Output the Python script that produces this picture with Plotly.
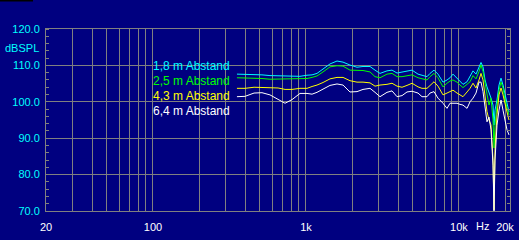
import plotly.graph_objects as go
import math

freq_hz = [354, 400, 458, 516, 582, 657, 730, 811, 914, 1016,
           1096, 1181, 1293, 1436, 1596, 1747, 1940, 2156, 2360, 2622,
           2828, 3048, 3386, 3652, 3938, 4246, 4576, 4936, 5402, 5736,
           6184, 6470, 6870, 7296, 7866, 8356, 8740, 9144, 9714, 10160,
           10628, 11294, 11812, 12354, 12926, 13524, 13936, 14362, 14802, 15254,
           15720, 16202, 16698, 16950, 17206, 17732, 18276, 18834, 19406, 20000,
           20612, 21240]

spl_1_8m = [107.6, 107.6, 107.6, 107.4, 107.2, 107.2, 107.2, 107.0, 107.0, 107.3,
            107.4, 107.8, 109.0, 110.4, 111.2, 110.9, 110.1, 109.5, 109.7, 109.7,
            108.7, 107.8, 108.5, 108.7, 107.9, 108.1, 108.5, 108.7, 107.6, 107.2,
            106.9, 107.8, 108.7, 107.6, 105.4, 106.0, 106.6, 107.6, 106.5, 105.4,
            104.8, 105.5, 106.9, 108.5, 107.6, 109.6, 110.8, 109.6, 106.0, 104.1,
            102.8, 101.0, 99.1, 93.6, 97.7, 100.5, 104.6, 106.5, 104.6, 101.9,
            99.1, 97.2]

spl_2_5m = [106.6, 106.6, 106.6, 106.4, 106.2, 106.2, 106.2, 106.2, 106.3, 106.4,
            106.7, 107.1, 108.2, 109.6, 109.9, 109.8, 108.7, 108.6, 108.6, 108.2,
            106.9, 106.6, 107.6, 107.8, 106.9, 106.9, 107.2, 107.4, 106.6, 106.3,
            106.0, 106.9, 107.8, 106.6, 104.1, 105.1, 105.7, 106.0, 105.4, 104.6,
            103.9, 104.8, 105.5, 107.2, 106.3, 108.3, 110.1, 108.3, 105.1, 101.9,
            99.1, 101.0, 95.0, 87.3, 93.6, 99.1, 103.2, 105.4, 103.8, 100.5,
            98.3, 96.4]

spl_4_3m = [103.7, 103.7, 104.0, 104.0, 104.0, 103.8, 103.4, 103.4, 103.7, 103.7,
            104.2, 104.6, 105.3, 106.3, 106.7, 106.7, 105.8, 105.4, 105.4, 105.2,
            104.3, 104.6, 104.8, 105.1, 104.3, 104.0, 104.5, 105.1, 104.1, 103.7,
            103.7, 104.6, 105.5, 104.3, 101.9, 102.4, 102.8, 103.2, 102.4, 101.9,
            101.4, 102.7, 103.7, 105.1, 103.8, 106.0, 107.8, 106.0, 101.0, 97.3,
            95.0, 93.6, 84.0, 70.3, 86.8, 96.4, 101.9, 103.8, 101.9, 99.1,
            97.2, 95.0]

spl_6_4m = [101.4, 101.5, 102.4, 102.5, 101.9, 100.6, 99.6, 100.6, 102.3, 102.3,
            102.1, 102.6, 103.5, 104.5, 104.9, 104.6, 102.7, 102.8, 103.4, 103.7,
            102.6, 101.4, 102.6, 103.0, 101.4, 101.7, 102.7, 102.9, 102.4, 101.4,
            101.4, 102.4, 102.8, 101.0, 99.6, 98.2, 99.6, 99.6, 99.6, 99.3,
            99.1, 98.2, 100.0, 101.0, 102.4, 105.4, 105.4, 102.8, 97.7, 94.5,
            95.8, 92.3, 82.6, 70.0, 84.0, 93.6, 97.7, 100.5, 97.7, 94.5,
            92.3, 90.9]

series_names = ["1,8 m Abstand", "2,5 m Abstand", "4,3 m Abstand", "6,4 m Abstand"]
series_values = [spl_1_8m, spl_2_5m, spl_4_3m, spl_6_4m]
series_colors = ["#00FFFF", "#00FF00", "#FFFF00", "#FFFFFF"]

grid_freqs = [20, 30, 40, 50, 60, 70, 80, 90,
              100, 200, 300, 400, 500, 600, 700, 800, 900,
              1000, 2000, 3000, 4000, 5000, 6000, 7000, 8000, 9000,
              10000, 20000]
labeled = {20: "20", 100: "100", 1000: "1k", 10000: "10k", 20000: "20k"}
x_ticktext = [labeled.get(f, "") for f in grid_freqs]

y_ticks = [70, 80, 90, 100, 110, 120]
y_ticktext = ["70.0", "80.0", "90.0", "100.0", "110.0", "120.0"]

BG = "#000080"
GRID = "#808080"
FONT = "Liberation Sans, Arial, sans-serif"

fig = go.Figure()
for name, vals, col in zip(series_names, series_values, series_colors):
    fig.add_trace(go.Scatter(x=freq_hz, y=vals, mode="lines", name=name,
                             line=dict(color=col, width=1), showlegend=False))

W, H = 519, 240
L, R, T, B = 46, 9, 29, 29
pw, ph = W - L - R, H - T - B

def px(xp):
    return (xp - L) / pw

def py(yp):
    return (H - B - yp) / ph

for i, (name, col) in enumerate(zip(series_names, series_colors)):
    fig.add_annotation(x=px(151), y=py(65.7 + 15 * i), xref="paper", yref="paper",
                       text=name, showarrow=False, xanchor="left", yanchor="middle",
                       font=dict(color=col, size=12, family=FONT))

fig.add_annotation(x=px(41), y=py(48), xref="paper", yref="paper", text="dBSPL",
                   showarrow=False, xanchor="right", yanchor="middle",
                   font=dict(color="#00FFFF", size=11, family=FONT))
fig.add_annotation(x=px(482), y=py(226), xref="paper", yref="paper", text="Hz",
                   showarrow=False, xanchor="center", yanchor="middle",
                   font=dict(color="#FFFFFF", size=11, family=FONT))

fig.add_shape(type="rect", xref="paper", yref="paper", x0=px(0), x1=px(33),
              y0=py(0), y1=py(1.5), fillcolor="black", line=dict(width=0))

fig.update_layout(
    width=W, height=H,
    margin=dict(l=L, r=R, t=T, b=B, pad=0, autoexpand=False),
    paper_bgcolor=BG, plot_bgcolor=BG,
    xaxis=dict(type="log", range=[math.log10(20), math.log10(21560)],
               tickmode="array", tickvals=grid_freqs, ticktext=x_ticktext,
               showgrid=True, gridcolor=GRID, gridwidth=1, automargin=False,
               showline=True, linecolor=GRID, linewidth=1, mirror=True,
               ticks="", zeroline=False, ticklabelstandoff=6,
               tickfont=dict(color="#FFFFFF", size=11, family=FONT)),
    yaxis=dict(range=[70, 120], tickmode="array", tickvals=y_ticks, ticktext=y_ticktext,
               showgrid=True, gridcolor=GRID, gridwidth=1, automargin=False,
               showline=True, linecolor=GRID, linewidth=1, mirror="ticks",
               ticks="", zeroline=False, ticklabelstandoff=3,
               minor=dict(dtick=2, ticks="inside", ticklen=3, tickcolor=GRID, showgrid=False),
               tickfont=dict(color="#00FFFF", size=11, family=FONT)),
)

fig.write_html("out.html")
